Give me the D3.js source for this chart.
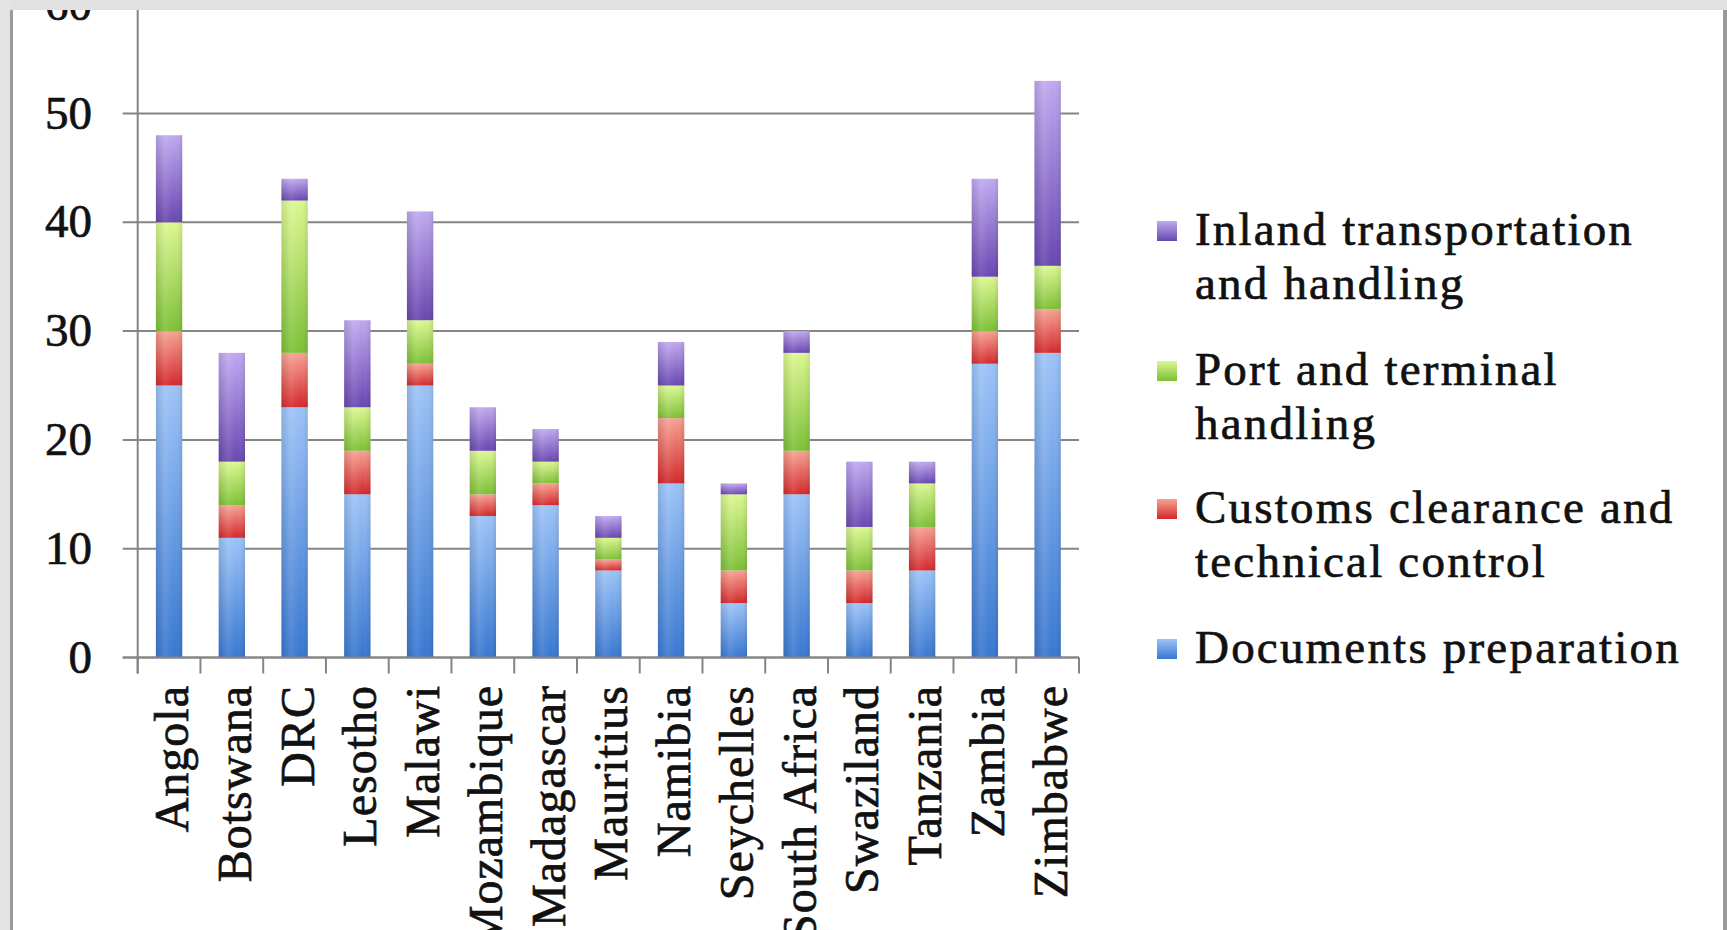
<!DOCTYPE html>
<html>
<head>
<meta charset="utf-8">
<script src="https://cdnjs.cloudflare.com/ajax/libs/d3/7.8.5/d3.min.js"></script>
<style>
  html, body { margin: 0; padding: 0; background: #ffffff; overflow: hidden; }
  svg { display: block; }
  text { font-family: "Liberation Serif", "Times New Roman", serif; fill: #111; stroke: #111; stroke-width: 0.7px; }
</style>
</head>
<body>
<svg id="chart" width="1727" height="930"></svg>
<script>
// Days to export, broken down by procedure
const categories = ["Angola", "Botswana", "DRC", "Lesotho", "Malawi", "Mozambique", "Madagascar",
  "Mauritius", "Namibia", "Seychelles", "South Africa", "Swaziland", "Tanzania", "Zambia", "Zimbabwe"];
const documentsPreparation = [25, 11, 23, 15, 25, 13, 14, 8, 16, 5, 15, 5, 8, 27, 28];
const customsClearance     = [5, 3, 5, 4, 2, 2, 2, 1, 6, 3, 4, 3, 4, 3, 4];
const portHandling         = [10, 4, 14, 4, 4, 4, 2, 2, 3, 7, 9, 4, 4, 5, 4];
const inlandTransport      = [8, 10, 2, 8, 10, 4, 3, 2, 4, 1, 2, 6, 2, 9, 17];
const yTicks = [0, 10, 20, 30, 40, 50, 60];

const seriesKeys = ["docs", "customs", "port", "inland"];
const seriesNames = {
  docs: ["Documents preparation"],
  customs: ["Customs clearance and", "technical control"],
  port: ["Port and terminal", "handling"],
  inland: ["Inland transportation", "and handling"]
};
const seriesColors = {
  docs:    { top: "#9cc3f7", bottom: "#3877d0" },
  customs: { top: "#f6a293", bottom: "#d3282b" },
  port:    { top: "#dcf791", bottom: "#7cbf36" },
  inland:  { top: "#c0a9f0", bottom: "#6846b0" }
};

const rows = categories.map((c, i) => ({
  country: c,
  docs: documentsPreparation[i],
  customs: customsClearance[i],
  port: portHandling[i],
  inland: inlandTransport[i]
}));

const svg = d3.select("#chart");
const left = 137.7, right = 1079, bottom = 657.5;

const x = d3.scaleBand().domain(categories).range([left, right]).padding(0);
const y = d3.scaleLinear().domain([0, 60]).range([bottom, 4.7]);
const barW = x.bandwidth() * 0.42;

// gradients
const defs = svg.append("defs");
seriesKeys.forEach(k => {
  const g = defs.append("linearGradient").attr("id", "grad-" + k)
    .attr("x1", 0).attr("y1", 0).attr("x2", 0).attr("y2", 1);
  g.append("stop").attr("offset", "0%").attr("stop-color", seriesColors[k].top);
  g.append("stop").attr("offset", "100%").attr("stop-color", seriesColors[k].bottom);
});
const sheen = defs.append("linearGradient").attr("id", "sheen")
  .attr("x1", 0).attr("y1", 0).attr("x2", 1).attr("y2", 0);
sheen.append("stop").attr("offset", "0%").attr("stop-color", "#000").attr("stop-opacity", 0.10);
sheen.append("stop").attr("offset", "35%").attr("stop-color", "#fff").attr("stop-opacity", 0.10);
sheen.append("stop").attr("offset", "70%").attr("stop-color", "#fff").attr("stop-opacity", 0.0);
sheen.append("stop").attr("offset", "100%").attr("stop-color", "#000").attr("stop-opacity", 0.10);

// gridlines
svg.append("g").selectAll("line").data(yTicks).join("line")
  .attr("x1", left - 15).attr("x2", right)
  .attr("y1", d => y(d)).attr("y2", d => y(d))
  .attr("stroke", "#858585").attr("stroke-width", 2);

// y tick labels
svg.append("g").selectAll("text").data(yTicks).join("text")
  .attr("x", 92).attr("y", d => y(d) + 15)
  .attr("text-anchor", "end")
  .style("font-size", "47px")
  .text(d => d);

// y axis line
svg.append("line")
  .attr("x1", left).attr("x2", left).attr("y1", y(60)).attr("y2", bottom + 16)
  .attr("stroke", "#858585").attr("stroke-width", 2);

// x axis ticks at band edges
const edges = categories.map(c => x(c)).concat([right]);
svg.append("g").selectAll("line").data(edges).join("line")
  .attr("x1", d => d).attr("x2", d => d)
  .attr("y1", bottom).attr("y2", bottom + 16)
  .attr("stroke", "#858585").attr("stroke-width", 2);

// stacked bars
const stacked = d3.stack().keys(seriesKeys)(rows);
const layers = svg.append("g").selectAll("g").data(stacked).join("g");
layers.selectAll("rect.seg").data(d => d.map(p => ({ p, key: d.key }))).join("rect")
  .attr("class", "seg")
  .attr("x", d => x(d.p.data.country) + (x.bandwidth() - barW) / 2)
  .attr("width", barW)
  .attr("y", d => y(d.p[1]))
  .attr("height", d => y(d.p[0]) - y(d.p[1]))
  .attr("fill", d => `url(#grad-${d.key})`);
layers.selectAll("rect.sheen").data(d => d.map(p => ({ p, key: d.key }))).join("rect")
  .attr("class", "sheen")
  .attr("x", d => x(d.p.data.country) + (x.bandwidth() - barW) / 2)
  .attr("width", barW)
  .attr("y", d => y(d.p[1]))
  .attr("height", d => y(d.p[0]) - y(d.p[1]))
  .attr("fill", "url(#sheen)");

// redraw axis base line over bars
svg.append("line")
  .attr("x1", left - 15).attr("x2", right).attr("y1", bottom).attr("y2", bottom)
  .attr("stroke", "#858585").attr("stroke-width", 2);

// category labels
svg.append("g").selectAll("text").data(categories).join("text")
  .attr("transform", d => `translate(${x(d) + x.bandwidth() / 2},685) rotate(-90)`)
  .attr("y", 19)
  .attr("text-anchor", "end")
  .style("font-size", "48px")
  .style("letter-spacing", "1px")
  .text(d => d);

// legend
const legendOrder = ["inland", "port", "customs", "docs"];
const legendTop = [231, 371, 509, 649];
const legend = svg.append("g").selectAll("g").data(legendOrder).join("g")
  .attr("transform", (d, i) => `translate(0,${legendTop[i]})`);
legend.append("rect")
  .attr("x", 1157).attr("y", -10).attr("width", 20).attr("height", 20)
  .attr("fill", d => `url(#grad-${d})`);
legend.append("text")
  .attr("x", 1195).attr("y", 14)
  .style("font-size", "47px")
  .style("letter-spacing", "2.2px")
  .selectAll("tspan").data(d => seriesNames[d]).join("tspan")
  .attr("x", 1195).attr("dy", (d, i) => i === 0 ? 0 : 54)
  .text(d => d);

// window frame
svg.append("rect").attr("x", 0).attr("y", 0).attr("width", 1727).attr("height", 10).attr("fill", "#e1e1e1");
svg.append("rect").attr("x", 0).attr("y", 0).attr("width", 10).attr("height", 930).attr("fill", "#e3e3e3");
svg.append("rect").attr("x", 10).attr("y", 10).attr("width", 3).attr("height", 920).attr("fill", "#9a9a9a");
svg.append("rect").attr("x", 1723).attr("y", 10).attr("width", 4).attr("height", 920).attr("fill", "#9a9a9a");
</script>
</body>
</html>
